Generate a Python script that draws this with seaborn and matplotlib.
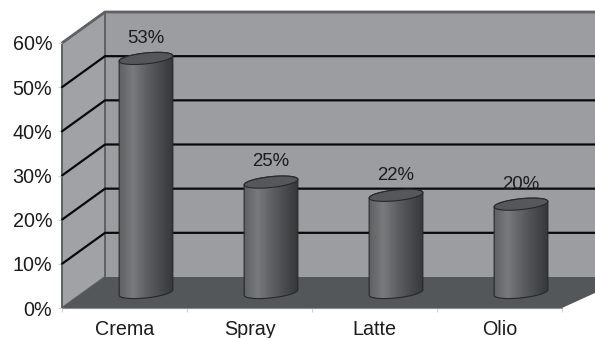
import numpy as np
import pandas as pd
import matplotlib
matplotlib.use("Agg")
import matplotlib.pyplot as plt
from matplotlib.patches import Polygon, PathPatch
from matplotlib.path import Path
from matplotlib.colors import LinearSegmentedColormap
import seaborn as sns

# Survey shares by product format
categories = ["Crema", "Spray", "Latte", "Olio"]
shares = [53, 25, 22, 20]
y_ticks = [0, 10, 20, 30, 40, 50, 60]

FIG_W, FIG_H = 595, 338
LEFT, RIGHT, BOTTOM, TOP = 62, 562, 308, 43
PX_X = (RIGHT - LEFT) / len(categories)
PX_Y = (BOTTOM - TOP) / 60
# Depth of the box, expressed in axis units
DX = 43 / PX_X
DY = 31 / PX_Y

WALL = "#9b9da1"
SIDE = "#a0a2a6"
FLOOR = "#54575a"
EDGE = "#5e6165"
INK = "#1c1c1c"

sns.set_theme(style="white")
plt.rcParams["font.family"] = ["Liberation Sans", "DejaVu Sans"]

fig = plt.figure(figsize=(FIG_W / 100, FIG_H / 100), dpi=100, facecolor="white")
ax = fig.add_axes([LEFT / FIG_W, 1 - BOTTOM / FIG_H,
                   (RIGHT - LEFT) / FIG_W, (BOTTOM - TOP) / FIG_H])

df = pd.DataFrame({"category": categories, "share": shares})
sns.barplot(data=df, x="category", y="share", ax=ax, width=53 / PX_X,
            color="#5a5c60", saturation=1, zorder=3)
xmin, xmax = -0.5, len(categories) - 0.5
ymin, ymax = 0, 60
ax.set_xlim(xmin, xmax)
ax.set_ylim(ymin, ymax)
ax.set_xlabel("")
ax.set_ylabel("")
ax.patch.set_visible(False)
for s in ax.spines.values():
    s.set_visible(False)

# Box: back wall, side wall and floor
far_x = xmax + DX + 0.2
ax.add_patch(Polygon([(xmin + DX, DY), (far_x, DY), (far_x, ymax + DY), (xmin + DX, ymax + DY)],
                     closed=True, fc=WALL, ec="none", clip_on=False, zorder=0))
ax.add_patch(Polygon([(xmin, 0), (xmin + DX, DY), (xmin + DX, ymax + DY), (xmin, ymax)],
                     closed=True, fc=SIDE, ec=EDGE, lw=1.4, clip_on=False, zorder=0.5))
ax.add_patch(Polygon([(xmin, 0), (xmin + DX, DY), (far_x, DY), (xmax, 0)],
                     closed=True, fc=FLOOR, ec="none", clip_on=False, zorder=1))
ax.plot([xmin, xmin + DX, far_x], [ymax, ymax + DY, ymax + DY], color=EDGE, lw=2,
        clip_on=False, zorder=1.2, solid_capstyle="butt")
ax.plot([xmin, xmax], [0, 0], color="#8a8c90", lw=0.8, clip_on=False, zorder=1.2)

# Gridlines run along the side wall, then across the back wall
for t in y_ticks[1:-1]:
    ax.plot([xmin, xmin + DX, far_x], [t, t + DY, t + DY], color="#0a0a0a", lw=1.6,
            clip_on=False, zorder=1.1, solid_joinstyle="miter")

# Cylinders: a shaded body from each bar, capped with a tilted ellipse
cmap = LinearSegmentedColormap.from_list(
    "cyl", [(0, "#5f6062"), (0.25, "#787a7c"), (0.55, "#5b5c5f"), (1, "#363739")])
shade = np.linspace(0, 1, 128).reshape(1, -1)
semi_a, semi_b, tilt = 27.0, 5.4, np.deg2rad(6)


def ring(cx, cy, t):
    px = semi_a * np.cos(t) * np.cos(tilt) - semi_b * np.sin(t) * np.sin(tilt)
    py = semi_a * np.cos(t) * np.sin(tilt) + semi_b * np.sin(t) * np.cos(tilt)
    return cx + px / PX_X, cy + py / PX_Y


for bar, value in zip(ax.patches[:len(shares)], shares):
    cx = bar.get_x() + bar.get_width() / 2 + DX / 2
    base = DY / 2
    top = base + bar.get_height()
    # The flat bar only supplies the geometry; the cylinder replaces it
    bar.set_visible(False)

    lower = np.linspace(np.pi, 2 * np.pi, 40)
    upper = np.linspace(0, np.pi, 40)
    bx, by = ring(cx, base, lower)
    tx, ty = ring(cx, top, upper)
    verts = np.column_stack([np.r_[bx, tx], np.r_[by, ty]])
    body = PathPatch(Path(np.vstack([verts, verts[0]]), closed=True), fc="none",
                     ec="#26282a", lw=0.8, clip_on=False, zorder=4.5)
    ax.add_patch(body)
    half = semi_a / PX_X
    im = ax.imshow(shade, cmap=cmap, aspect="auto", interpolation="bilinear",
                   extent=[cx - half, cx + half, base - 3, top + 3], zorder=4)
    clip = PathPatch(body.get_path(), transform=ax.transData, fc="none", ec="none")
    im.set_clip_path(clip)

    whole = np.linspace(0, 2 * np.pi, 80)
    ex, ey = ring(cx, top, whole)
    ax.add_patch(Polygon(np.column_stack([ex, ey]), closed=True, fc="#55575a",
                         ec="#26282a", lw=0.8, clip_on=False, zorder=5))
    ax.annotate(f"{value}%", (cx, top), xytext=(0, 14.5), textcoords="offset points",
                ha="center", va="center", fontsize=13.4, color=INK, zorder=6,
                annotation_clip=False)

ax.set_xlim(xmin, xmax)
ax.set_ylim(ymin, ymax)

# Axis ticks and labels
ax.set_yticks(y_ticks)
ax.set_yticklabels([f"{t}%" for t in y_ticks], fontsize=14.2, color=INK)
ax.set_xticks(range(len(categories)))
ax.set_xticklabels(categories, fontsize=14.2, color=INK)
ax.set_xticks(np.arange(xmin, xmax + 0.5, 1), minor=True)
ax.tick_params(axis="y", which="major", left=True, length=3, width=0.8, color="#d2d2d2", pad=4)
ax.tick_params(axis="x", which="major", bottom=False, pad=2.5)
ax.tick_params(axis="x", which="minor", bottom=True, length=3, width=0.8, color="#d2d2d2")

fig.savefig("out.png", dpi=100, facecolor="white")
